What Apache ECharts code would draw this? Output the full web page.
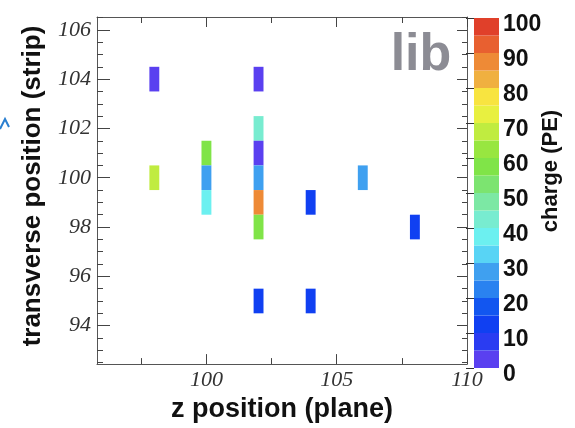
<!DOCTYPE html>
<html>
<head>
<meta charset="utf-8">
<script src="https://cdn.jsdelivr.net/npm/echarts@6/dist/echarts.min.js"></script>
<style>html,body{margin:0;padding:0;background:#fff}#c{width:575px;height:428px}</style>
</head>
<body>
<div id="c"></div>
<script>
// ---- data ----
const cellX = [98, 98, 100, 100, 100, 102, 102, 102, 102, 102, 102, 102, 104, 104, 106, 108];
const cellY = [104, 100, 101, 100, 99, 104, 102, 101, 100, 99, 98, 95, 99, 95, 100, 98];
const cellCharge = [3, 67, 58, 26, 37, 3, 42, 3, 26, 87, 58, 12, 12, 12, 27, 12];
const xMajorTicks = [100, 105, 110];
const xMinorTicks = [97.5, 102.5, 107.5];
const yMajorTicks = [94, 96, 98, 100, 102, 104, 106];
const yMinorTicks = [92.5, 93, 93.5, 94.5, 95, 95.5, 96.5, 97, 97.5, 98.5, 99, 99.5, 100.5, 101, 101.5, 102.5, 103, 103.5, 104.5, 105, 105.5, 106.5];
const paletteBandEdges = [0, 5, 10, 15, 20, 25, 30, 35, 40, 45, 50, 55, 60, 65, 70, 75, 80, 85, 90, 95, 100];
const palette = ['#5a40f0', '#2a3cf2', '#1040f2', '#1256f0', '#2a82f0', '#3fa0f0', '#58d4f5', '#6cf0f0',
                 '#78ecd0', '#7ce8a4', '#7ce470', '#80e448', '#98e640', '#c0ec40', '#e8f040', '#f8e440',
                 '#f0b040', '#ee8a36', '#e86030', '#e0402a'];

// ---- build ----
const CELL_W = 0.38;
const cells = cellX.map((x, i) => [x, cellY[i], cellCharge[i]]);
const bands = palette.map((c, i) => [paletteBandEdges[i], paletteBandEdges[i + 1], i]);
function colorFor(v) {
  for (let i = 0; i < palette.length; i++) {
    if (v < paletteBandEdges[i + 1]) return palette[i];
  }
  return palette[palette.length - 1];
}

const FRAME = '#555';
const TICKC = '#444';
const labelSerif = { fontFamily: 'Liberation Serif', fontStyle: 'italic', fontSize: 22, color: '#333' };

const X_MIN = 95.8, X_MAX = 110, Y_MIN = 92.44, Y_MAX = 106.52;

function xAx(pos, vals, len, withLabels, showLine) {
  return {
    type: 'value', gridIndex: 0, position: pos, min: X_MIN, max: X_MAX,
    axisLine: { show: showLine, onZero: false, lineStyle: { color: FRAME, width: 1 } },
    axisTick: { show: true, inside: true, length: len, customValues: vals, lineStyle: { color: TICKC } },
    axisLabel: withLabels ? Object.assign({ show: true, customValues: xMajorTicks, margin: 5 }, labelSerif) : { show: false },
    splitLine: { show: false }
  };
}
function yAx(pos, vals, len, withLabels, showLine) {
  return {
    type: 'value', gridIndex: 0, position: pos, min: Y_MIN, max: Y_MAX,
    axisLine: { show: showLine, onZero: false, lineStyle: { color: FRAME, width: 1 } },
    axisTick: { show: true, inside: true, length: len, customValues: vals, lineStyle: { color: TICKC } },
    axisLabel: withLabels ? Object.assign({ show: true, customValues: yMajorTicks, margin: 6 }, labelSerif) : { show: false },
    splitLine: { show: false }
  };
}

const xb = xAx('bottom', xMajorTicks, 10, true, true);
xb.name = 'z position (plane)';
xb.nameLocation = 'middle';
xb.nameGap = 31;
xb.nameTextStyle = { fontFamily: 'Liberation Sans', fontWeight: 'bold', fontSize: 27, color: '#111' };

const option = {
  backgroundColor: '#fff',
  animation: false,
  grid: [
    { left: 97, top: 17, width: 370, height: 352 },
    { left: 474, top: 18, width: 25, height: 350 }
  ],
  xAxis: [
    xb,
    xAx('bottom', xMinorTicks, 6, false, false),
    xAx('top', xMajorTicks, 10, false, true),
    xAx('top', xMinorTicks, 6, false, false),
    { type: 'value', gridIndex: 1, min: 0, max: 1, show: false }
  ],
  yAxis: [
    yAx('left', yMajorTicks, 13, true, true),
    yAx('left', yMinorTicks, 6, false, false),
    yAx('right', yMajorTicks, 10, false, true),
    yAx('right', yMinorTicks, 5, false, false),
    {
      type: 'value', gridIndex: 1, position: 'right', min: 0, max: 100, interval: 10,
      axisLine: { show: false },
      axisTick: { show: true, inside: true, length: 8, lineStyle: { color: '#333' } },
      axisLabel: { show: true, margin: 4, fontFamily: 'Liberation Sans', fontWeight: 'bold', fontSize: 23, color: '#111', verticalAlign: 'top', lineHeight: 14 },
      splitLine: { show: false }
    }
  ],
  series: [
    {
      type: 'custom', name: 'charge', xAxisIndex: 0, yAxisIndex: 0,
      encode: { x: 0, y: 1 },
      data: cells,
      renderItem: function (params, api) {
        const x = api.value(0), y = api.value(1), v = api.value(2);
        const p0 = api.coord([x - CELL_W / 2, y + 0.5]);
        const p1 = api.coord([x + CELL_W / 2, y - 0.5]);
        return { type: 'rect', shape: { x: p0[0], y: p0[1], width: p1[0] - p0[0], height: p1[1] - p0[1] }, style: { fill: colorFor(v) } };
      }
    },
    {
      type: 'custom', name: 'palette', xAxisIndex: 4, yAxisIndex: 4,
      encode: { y: [0, 1] },
      data: bands,
      renderItem: function (params, api) {
        const lo = api.value(0), hi = api.value(1), idx = api.value(2);
        const p0 = api.coord([0, hi]);
        const p1 = api.coord([1, lo]);
        return { type: 'rect', shape: { x: p0[0], y: p0[1], width: p1[0] - p0[0], height: p1[1] - p0[1] }, style: { fill: palette[idx] } };
      },
      z: 1
    }
  ],
  graphic: [
    { type: 'text', x: 33, y: 186, rotation: Math.PI / 2,
      style: { text: 'transverse position (strip)', fontFamily: 'Liberation Sans', fontWeight: 'bold', fontSize: 26, fill: '#111', textAlign: 'center', textVerticalAlign: 'middle' } },
    { type: 'text', x: 551, y: 171, rotation: Math.PI / 2,
      style: { text: 'charge (PE)', fontFamily: 'Liberation Sans', fontWeight: 'bold', fontSize: 22, fill: '#111', textAlign: 'center', textVerticalAlign: 'middle' } },
    { type: 'text', x: 421, y: 56,
      style: { text: 'lib', fontFamily: 'Liberation Sans', fontWeight: 'bold', fontSize: 52, fill: '#8c8c94', textAlign: 'center', textVerticalAlign: 'middle' } },
    { type: 'polyline', shape: { points: [[0, 129], [5, 119], [9, 127]] }, style: { stroke: '#2a7fd0', lineWidth: 2, fill: null } }
  ]
};

const chart = echarts.init(document.getElementById('c'), null, { renderer: 'canvas' });
chart.setOption(option);
</script>
</body>
</html>
